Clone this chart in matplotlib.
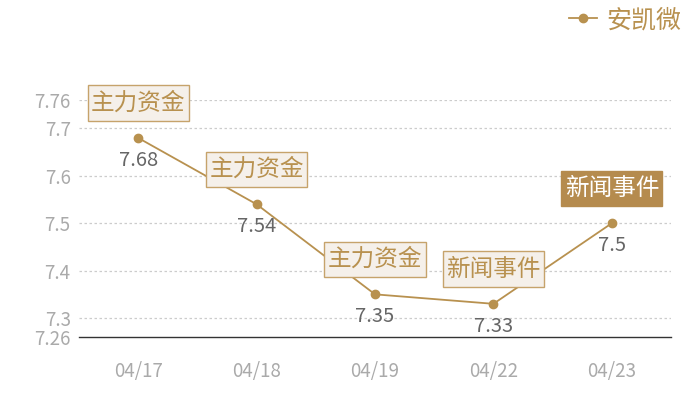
import matplotlib
matplotlib.use("Agg")
import matplotlib.pyplot as plt
from matplotlib.lines import Line2D
from matplotlib.path import Path

plt.rcParams['font.family'] = ['Noto Sans CJK SC', 'DejaVu Sans']

dates = ["04/17", "04/18", "04/19", "04/22", "04/23"]
prices = [7.68, 7.54, 7.35, 7.33, 7.5]
events = ["主力资金", "主力资金", "主力资金", "新闻事件", "新闻事件"]
highlight = [False, False, False, False, True]
yticks = [7.26, 7.3, 7.4, 7.5, 7.6, 7.7, 7.76]
series_name = "安凯微"

gold = '#b8914f'


def rect_box(x0, y0, width, height, mutation_size):
    px = 0.14 * mutation_size
    py = 0.27 * mutation_size
    x0 -= px
    y0 -= py
    x1 = x0 + width + 2 * px
    y1 = y0 + height + 2 * py
    return Path([(x0, y0), (x1, y0), (x1, y1), (x0, y1), (x0, y0)], closed=True)


fig = plt.figure(figsize=(7, 4), dpi=100)
ax = fig.add_axes([79/700, 63/400, 592/700, 237/400])

x = list(range(len(dates)))
ax.plot(x, prices, color=gold, lw=1.3, marker='o', ms=6, mec=gold, mfc=gold, zorder=3)

ax.set_xlim(-0.5, len(dates) - 0.5)
ax.set_ylim(yticks[0], yticks[-1])
ax.set_yticks(yticks)
ax.set_yticklabels([f"{v:g}" for v in yticks])
ax.set_xticks(x)
ax.set_xticklabels(dates)
ax.tick_params(axis='both', length=0, labelsize=13.5, colors='#aaaaaa')
ax.tick_params(axis='y', pad=6)
ax.tick_params(axis='x', pad=17)

for v in yticks[1:]:
    ax.axhline(v, color='#cccccc', lw=0.9, ls=(0, (2, 2)), zorder=1)

for s in ['top', 'right', 'left']:
    ax.spines[s].set_visible(False)
ax.spines['bottom'].set_color('#333333')
ax.spines['bottom'].set_linewidth(1.0)

for xi, p, ev, hl in zip(x, prices, events, highlight):
    ax.annotate(f"{p:g}", (xi, p), xytext=(0, -16), textcoords='offset points',
                ha='center', va='center', fontsize=14.5, color='#666666', zorder=4)
    if hl:
        bbox = dict(boxstyle=rect_box, fc='#b58b4e', ec='#b58b4e', lw=1)
        tc = 'white'
    else:
        bbox = dict(boxstyle=rect_box, fc='#f5f0ea', ec='#c6a36b', lw=1)
        tc = '#b8914f'
    ax.annotate(ev, (xi, p), xytext=(0, 25), textcoords='offset points',
                ha='center', va='center', fontsize=17, color=tc, bbox=bbox, zorder=5,
                annotation_clip=False)

handle = Line2D([], [], color=gold, lw=1.3, marker='o', ms=6, mfc=gold, mec=gold)
fig.legend([handle], [series_name], loc='center right', bbox_to_anchor=(699/700, 1 - 20/400),
           frameon=False, fontsize=18, labelcolor=gold, handlelength=1.1, handletextpad=0.4,
           borderaxespad=0.3)

fig.savefig("out.png", dpi=100)
